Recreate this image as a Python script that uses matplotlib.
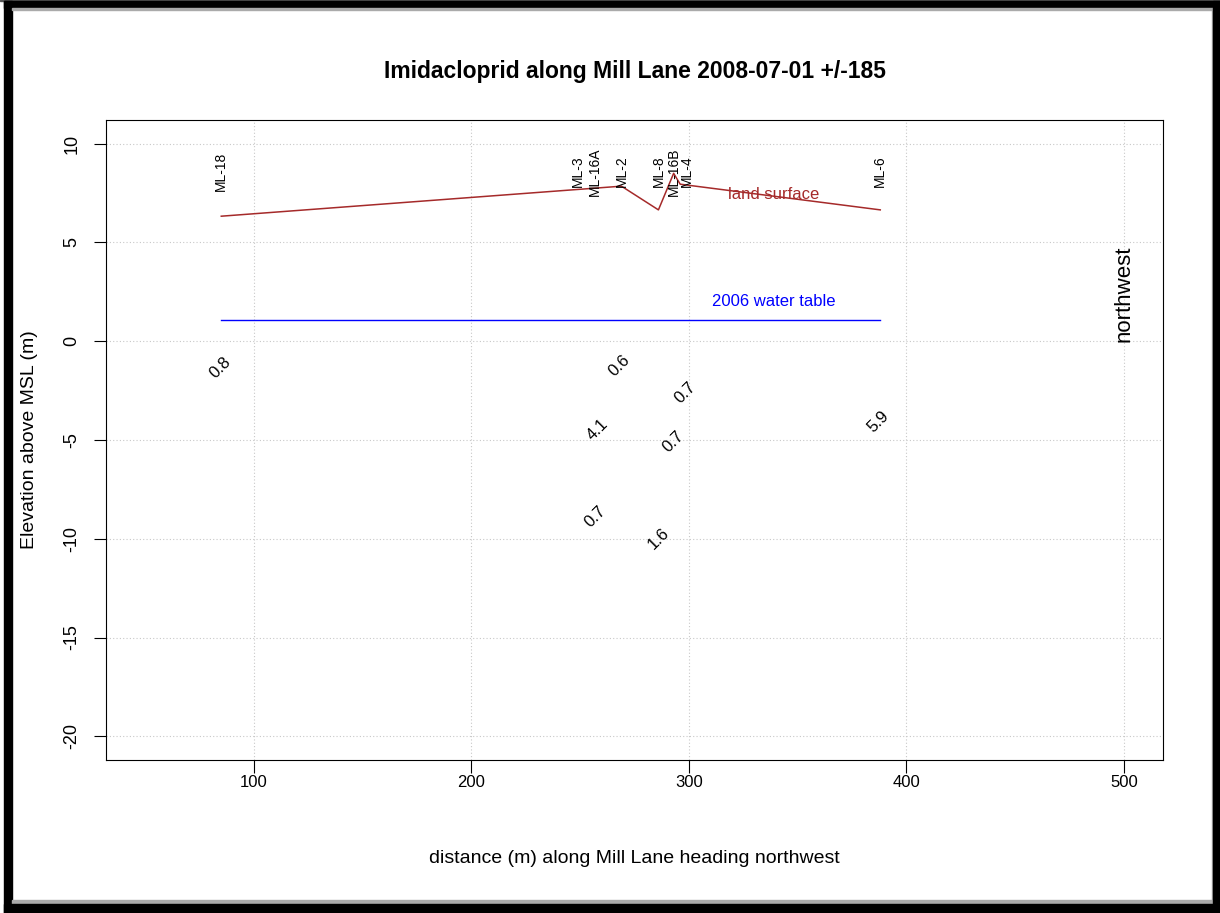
import matplotlib
matplotlib.use("Agg")
import matplotlib.pyplot as plt
from matplotlib.patches import Rectangle

plt.rcParams["axes.unicode_minus"] = False

# Data
wells = ["ML-18", "ML-3", "ML-16A", "ML-2", "ML-8", "ML-16B", "ML-4", "ML-6"]
well_dist = [85, 249, 257, 269, 286, 293, 299, 388]
land_dist = [85, 269, 286, 293, 296, 388]
land_elev = [6.33, 7.85, 6.65, 8.5, 7.95, 6.65]
wt_dist = [85, 388]
wt_elev = [1.07, 1.07]
conc_dist = [84.5, 268, 298.5, 258, 293, 257, 286, 387]
conc_elev = [-1.35, -1.25, -2.6, -4.5, -5.1, -8.9, -10.0, -4.05]
conc_vals = ["0.8", "0.6", "0.7", "4.1", "0.7", "0.7", "1.6", "5.9"]
label_elev = 8.6
xticks = [100, 200, 300, 400, 500]
yticks = [10, 5, 0, -5, -10, -15, -20]

narrow = ["Liberation Sans Narrow", "Liberation Sans", "DejaVu Sans"]
regular = ["Liberation Sans", "DejaVu Sans"]

fig = plt.figure(figsize=(12.2, 9.13), dpi=100)
ax = fig.add_axes([106/1220, 1 - 760/913, (1163-106)/1220, (760-120)/913])
ax.set_xlim(32, 518)
ax.set_ylim(-21.2, 11.2)

ax.grid(True, color="#c8c8c8", linestyle=(0, (1, 2)), linewidth=0.8)
ax.set_axisbelow(True)

ax.plot(land_dist, land_elev, color="#A52A2A", lw=1.1)
ax.plot(wt_dist, wt_elev, color="blue", lw=1.0)

ax.text(339, 7.45, "land surface", color="#A52A2A", fontsize=12, family=narrow,
        ha="center", va="center")
ax.text(339, 2.0, "2006 water table", color="blue", fontsize=12, family=narrow,
        ha="center", va="center")
ax.text(500, 2.4, "northwest", rotation=90, fontsize=16, family=regular,
        ha="center", va="center")

for w, d in zip(wells, well_dist):
    ax.text(d, label_elev, w, rotation=90, fontsize=10, family=regular,
            ha="center", va="center")

for v, d, e in zip(conc_vals, conc_dist, conc_elev):
    ax.text(d, e, v, rotation=45, fontsize=12, family=regular,
            ha="center", va="center")

ax.set_xticks(xticks)
ax.set_yticks(yticks)
ax.tick_params(axis="x", labelsize=12, length=9, pad=2)
ax.tick_params(axis="y", labelsize=13, length=8.5, pad=10)
for t in ax.get_xticklabels():
    t.set_family(narrow)
for t in ax.get_yticklabels():
    t.set_family(regular)
    t.set_rotation(90)
    t.set_va("center")

ax.set_xlabel("distance (m) along Mill Lane heading northwest", fontsize=14,
              family=narrow, labelpad=43)
ax.set_ylabel("Elevation above MSL (m)", fontsize=14, family=regular, labelpad=18)
ax.set_title("Imidacloprid along Mill Lane 2008-07-01 +/-185", fontsize=16.5,
             family=narrow, fontweight="bold", pad=30)

# Frame around figure
W, H = 1220, 913
def rect(x0, y0, x1, y1, c):
    fig.patches.append(Rectangle((x0/W, 1 - y1/H), (x1-x0)/W, (y1-y0)/H,
                                 transform=fig.transFigure, color=c, zorder=-1))
rect(0, 0, W, 1, "#555555")
rect(4, 1, W, 8, "black")
rect(4, 1, 12, H, "black")
rect(12, 8, 1212, 10, "#aaaaaa")
rect(1212, 8, 1213, 904, "#aaaaaa")
rect(12, 900, 1213, 904, "#aaaaaa")
rect(1213, 1, W, H, "black")
rect(4, 904, W, H, "black")

fig.savefig("out.png", dpi=100)
